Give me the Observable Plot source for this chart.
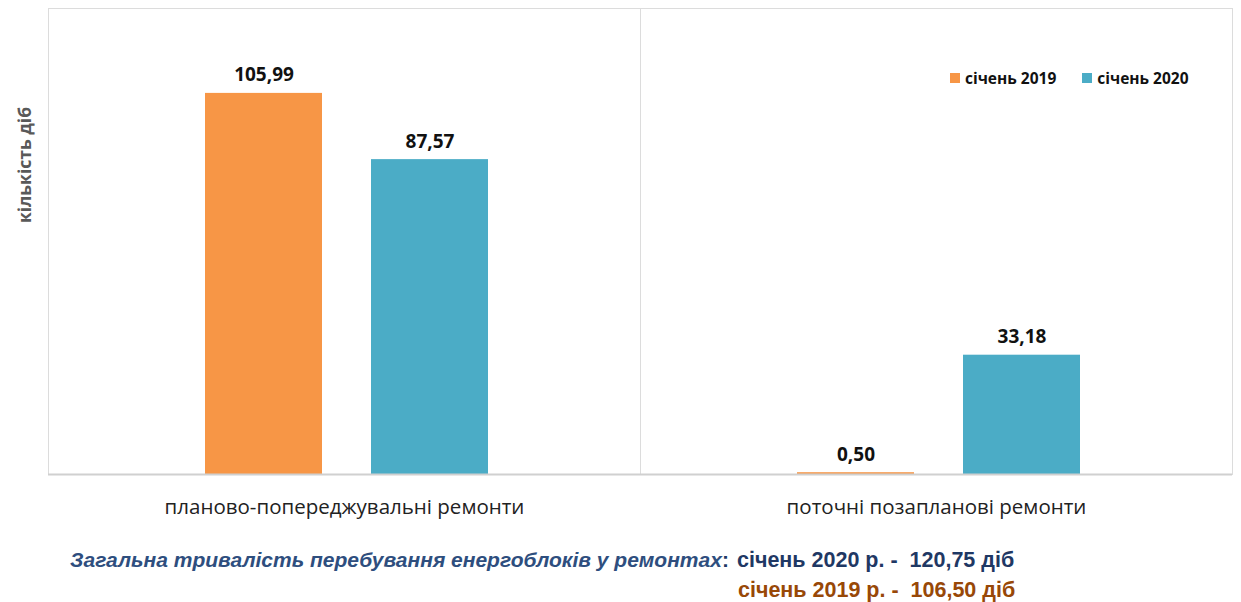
<!DOCTYPE html>
<html>
<head>
<meta charset="utf-8">
<script src="https://cdn.jsdelivr.net/npm/d3@7"></script>
<script src="https://cdn.jsdelivr.net/npm/@observablehq/plot@0.6"></script>
<style>
  body { margin: 0; background: #fff; font-family: "Open Sans", "Liberation Sans", sans-serif; }
  #wrap { position: relative; width: 1241px; height: 602px; overflow: hidden; }
  #ylabel { position: absolute; left: 24px; top: 165px; transform: translate(-50%, -50%) rotate(-90deg); font-weight: bold; font-size: 17.5px; color: #595959; white-space: nowrap; }
  #legend { position: absolute; left: 950px; top: 67px; font-weight: bold; font-size: 15.5px; color: #111; white-space: nowrap; display: flex; align-items: center; }
  #legend .sw { display: inline-block; width: 10px; height: 10px; margin-right: 5px; }
  #legend .item { display: flex; align-items: center; margin-right: 26px; }
  .cap { position: absolute; font-size: 21.5px; font-weight: bold; white-space: pre; font-family: "Liberation Sans", sans-serif; line-height: 24px; }
</style>
</head>
<body>
<div id="wrap">
  <div id="chart"></div>
  <div id="ylabel"></div>
  <div id="legend"></div>
  <div class="cap" id="capLead" style="left:70px; top:548px; font-size:21px; font-style:italic; color:#2E4E7E;"></div>
  <div class="cap" id="cap1" style="left:737px; top:548px; color:#1F3864;"></div>
  <div class="cap" id="cap2" style="left:738px; top:578px; color:#984807;"></div>
</div>
<script>
const categories = ["планово-попереджувальні ремонти", "поточні позапланові ремонти"];
const seriesNames = ["січень 2019", "січень 2020"];
const values2019 = [105.99, 0.50];
const values2020 = [87.57, 33.18];
const seriesColors = ["#F79646", "#4BACC6"];
const yLabel = "кількість діб";
const captionLead = "Загальна тривалість перебування енергоблоків у ремонтах";
const total2020 = "січень 2020 р. -  120,75 діб";
const total2019 = "січень 2019 р. -  106,50 діб";

const data = [];
categories.forEach((c, i) => {
  data.push({category: c, series: seriesNames[0], value: values2019[i]});
  data.push({category: c, series: seriesNames[1], value: values2020[i]});
});
const fmt = v => v.toFixed(2).replace(".", ",");

const chart = Plot.plot({
  width: 1241,
  height: 530,
  marginLeft: 48,
  marginRight: 9,
  marginTop: 8,
  marginBottom: 56,
  style: {fontFamily: "Open Sans, Liberation Sans, sans-serif", fontSize: "20.5px", color: "#222", background: "#fff"},
  fx: {domain: categories, padding: 0, axis: "bottom", label: null, tickSize: 0, tickPadding: 25},
  x: {domain: seriesNames, paddingInner: 0.2952, paddingOuter: 0.9306, align: 0.508, axis: null},
  y: {domain: [0, 129.6], axis: null},
  color: {domain: seriesNames, range: seriesColors},
  marks: [
    Plot.frame({stroke: "#dcdcdc"}),
    Plot.barY(data, {fx: "category", x: "series", y: "value", fill: "series"}),
    Plot.ruleY([0], {stroke: "#d0d0d0", strokeWidth: 2}),
    Plot.text(data, {fx: "category", x: "series", y: "value", text: d => fmt(d.value), dy: -18, fontWeight: "bold", fontSize: 19, fill: "#111"})
  ]
});
document.getElementById("chart").appendChild(chart);

document.getElementById("ylabel").textContent = yLabel;
const legend = document.getElementById("legend");
seriesNames.forEach((s, i) => {
  const item = document.createElement("span");
  item.className = "item";
  const sw = document.createElement("span");
  sw.className = "sw";
  sw.style.background = seriesColors[i];
  item.appendChild(sw);
  item.appendChild(document.createTextNode(s));
  legend.appendChild(item);
});
const lead = document.getElementById("capLead");
lead.appendChild(document.createTextNode(captionLead));
const colon = document.createElement("span");
colon.style.fontStyle = "normal";
colon.style.color = "#1F3864";
colon.textContent = ":";
lead.appendChild(colon);
document.getElementById("cap1").textContent = total2020;
document.getElementById("cap2").textContent = total2019;
</script>
</body>
</html>
